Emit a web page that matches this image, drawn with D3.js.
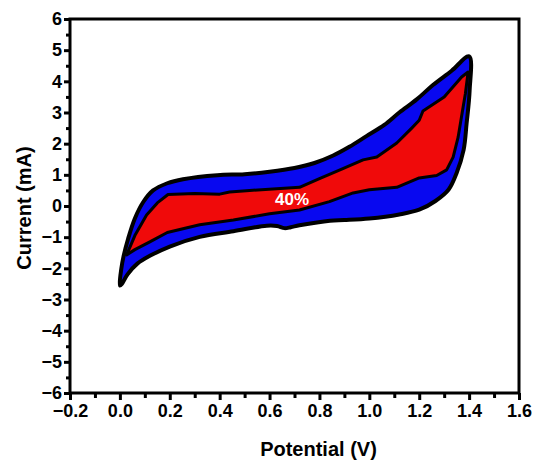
<!DOCTYPE html>
<html>
<head>
<meta charset="utf-8">
<script src="https://cdn.jsdelivr.net/npm/d3@7"></script>
<style>
  html, body { margin: 0; padding: 0; background: #fff; }
  svg { display: block; }
  text { font-family: "Liberation Sans", Arial, sans-serif; font-weight: bold; }
</style>
</head>
<body>
<svg id="chart" width="535" height="468"></svg>
<script>
// ---- data (potential in V, current in mA) ----
const xTicks = [-0.2, 0.0, 0.2, 0.4, 0.6, 0.8, 1.0, 1.2, 1.4, 1.6];
const xMinorTicks = [-0.1, 0.1, 0.3, 0.5, 0.7, 0.9, 1.1, 1.3, 1.5];
const yTicks = [-6, -5, -4, -3, -2, -1, 0, 1, 2, 3, 4, 5, 6];
const yMinorTicks = [-5.5, -4.5, -3.5, -2.5, -1.5, -0.5, 0.5, 1.5, 2.5, 3.5, 4.5, 5.5];

// outer loop (blue), closed path: forward scan then reverse scan
const bluePotential = [0.0, 0.006, 0.015, 0.033, 0.06, 0.093, 0.133, 0.19, 0.253, 0.39, 0.5, 0.6, 0.7, 0.78, 0.855, 0.92, 0.99, 1.06, 1.12, 1.19, 1.255, 1.33, 1.40,
  1.402, 1.39, 1.378, 1.35, 1.318, 1.265, 1.2, 1.12, 1.0, 0.9, 0.842, 0.72, 0.685, 0.66, 0.63, 0.589, 0.455, 0.32, 0.2, 0.12, 0.07, 0.03, 0.008];
const blueCurrent = [-2.55, -2.0, -1.6, -1.05, -0.4, 0.12, 0.5, 0.73, 0.86, 0.99, 1.02, 1.1, 1.22, 1.38, 1.62, 1.9, 2.25, 2.6, 3.0, 3.42, 3.88, 4.34, 4.8,
  3.7, 2.65, 1.8, 1.06, 0.53, 0.16, -0.12, -0.27, -0.4, -0.45, -0.47, -0.62, -0.68, -0.71, -0.64, -0.63, -0.81, -0.99, -1.3, -1.6, -1.85, -2.2, -2.5];

// inner loop (red, 40%)
const redPotential = [0.027, 0.06, 0.107, 0.15, 0.193, 0.3, 0.4, 0.44, 0.52, 0.72, 0.8, 0.88, 0.975, 1.03, 1.11, 1.17, 1.2, 1.215, 1.3, 1.37, 1.396,
  1.385, 1.376, 1.356, 1.336, 1.31, 1.27, 1.2, 1.11, 1.0, 0.935, 0.84, 0.72, 0.6, 0.455, 0.32, 0.19, 0.12, 0.06];
const redCurrent = [-1.57, -0.95, -0.29, 0.1, 0.37, 0.4, 0.38, 0.45, 0.5, 0.6, 0.88, 1.15, 1.48, 1.57, 2.02, 2.5, 2.75, 3.05, 3.5, 4.14, 4.3,
  3.6, 3.18, 2.21, 1.57, 1.16, 0.98, 0.9, 0.6, 0.52, 0.42, 0.14, -0.13, -0.25, -0.45, -0.6, -0.85, -1.15, -1.4];

const loopLabel = "40%";

// ---- layout ----
const svg = d3.select("#chart");
const mLeft = 70, mRight = 519, mTop = 19, mBottom = 393;

const x = d3.scaleLinear().domain([-0.2, 1.6]).range([mLeft, mRight]);
const y = d3.scaleLinear().domain([-6, 6]).range([mBottom, mTop]);

const fmtX = d3.format(".1f");
const styleText = g => g.selectAll("text").attr("font-size", 18).attr("fill", "#000")
  .attr("font-family", "'Liberation Sans', Arial, sans-serif").attr("font-weight", "bold");

// minor ticks
svg.append("g").attr("transform", `translate(0,${mBottom})`)
  .call(d3.axisBottom(x).tickValues(xMinorTicks).tickSize(5).tickFormat(""))
  .call(g => g.select(".domain").remove())
  .call(g => g.selectAll("line").attr("stroke-width", 3));
svg.append("g").attr("transform", `translate(${mLeft},0)`)
  .call(d3.axisLeft(y).tickValues(yMinorTicks).tickSize(4).tickFormat(""))
  .call(g => g.select(".domain").remove())
  .call(g => g.selectAll("line").attr("stroke-width", 3));

// major ticks
svg.append("g").attr("transform", `translate(0,${mBottom})`)
  .call(d3.axisBottom(x).tickValues(xTicks).tickSize(7).tickPadding(4).tickFormat(fmtX))
  .call(g => g.select(".domain").remove())
  .call(g => g.selectAll("line").attr("stroke-width", 3))
  .call(styleText);
svg.append("g").attr("transform", `translate(${mLeft},0)`)
  .call(d3.axisLeft(y).tickValues(yTicks).tickSize(6).tickPadding(2).tickFormat(d3.format("d")))
  .call(g => g.select(".domain").remove())
  .call(g => g.selectAll("line").attr("stroke-width", 3))
  .call(styleText);

// frame
svg.append("rect")
  .attr("x", mLeft).attr("y", mTop)
  .attr("width", mRight - mLeft).attr("height", mBottom - mTop)
  .attr("fill", "none").attr("stroke", "#000").attr("stroke-width", 3);

// loops
const bluePts = bluePotential.map((v, i) => [v, blueCurrent[i]]);
const redPts = redPotential.map((v, i) => [v, redCurrent[i]]);

const lineSmooth = d3.line().x(d => x(d[0])).y(d => y(d[1])).curve(d3.curveCatmullRomClosed.alpha(0.5));
const lineSharp = d3.line().x(d => x(d[0])).y(d => y(d[1])).curve(d3.curveLinearClosed);

svg.append("path").attr("d", lineSmooth(bluePts))
  .attr("fill", "#0808f0").attr("stroke", "#000").attr("stroke-width", 4)
  .attr("stroke-linejoin", "round");
svg.append("path").attr("d", lineSharp(redPts))
  .attr("fill", "#f00a0a").attr("stroke", "#000").attr("stroke-width", 3)
  .attr("stroke-linejoin", "round");

svg.append("text")
  .attr("x", x(0.69)).attr("y", y(0.02))
  .attr("text-anchor", "middle")
  .attr("font-size", 17).attr("fill", "#fff")
  .text(loopLabel);

// axis titles
svg.append("text")
  .attr("x", (mLeft + mRight) / 2 + 24).attr("y", 456)
  .attr("text-anchor", "middle").attr("font-size", 20).attr("fill", "#000")
  .text("Potential (V)");
svg.append("text")
  .attr("transform", `translate(31,${(mTop + mBottom) / 2 + 2}) rotate(-90)`)
  .attr("text-anchor", "middle").attr("font-size", 20).attr("fill", "#000")
  .text("Current (mA)");
</script>
</body>
</html>
